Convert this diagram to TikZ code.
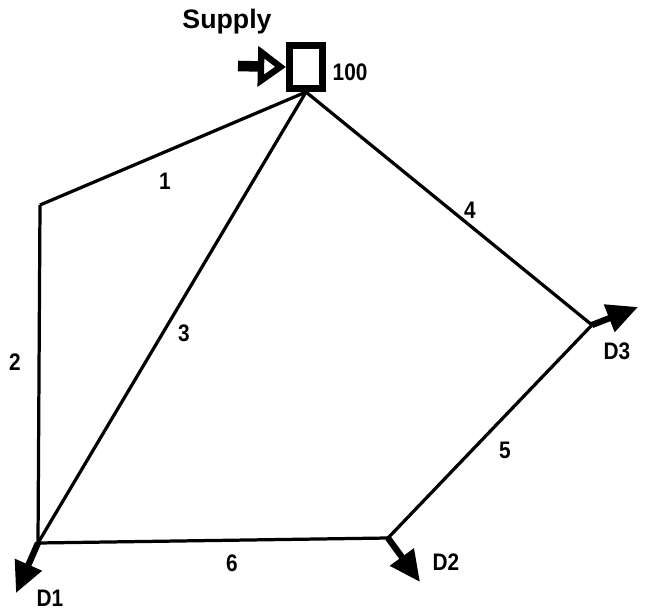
\documentclass[tikz,border=0pt]{standalone}
\usepackage{fontspec}
\setmainfont{Liberation Sans}
\newfontfamily\narrowfont{Liberation Sans}[FakeStretch=0.87]
\usepackage{xcolor}
\usetikzlibrary{positioning, arrows.meta}
\definecolor{pipegray}{HTML}{000000}

\begin{document}
\begin{tikzpicture}[
    x=0.025cm, y=-0.025cm,
    every node/.style={font=\narrowfont\bfseries\fontsize{17}{19}\selectfont},
    pipe/.style={line width=2.3pt, color=pipegray},
    demand/.style={line width=4.5pt, -{Triangle[length=22pt, width=20pt]}},
    lbl/.style={inner sep=1pt}
]
\useasboundingbox (0,0) rectangle (658,611);

% supply tank
\node[draw, line width=5pt, minimum width=23.5pt, minimum height=30.6pt, inner sep=0pt] (tank) at (306,67) {};
\node[lbl, font=\bfseries\fontsize{19}{21}\selectfont] (supply) at (227,22) {Supply};
\node[lbl, anchor=west] (head) at (331,72) {100};
\coordinate (src) at (tank.south);
\coordinate (inl) at (238,66);
\draw[line width=7.5pt, -{Triangle[open, length=20pt, width=28pt, line width=4.5pt]}] (inl) -- (tank.west);

% junctions
\coordinate (jA) at (40,205);
\coordinate (j1) at (38,543);
\coordinate (j2) at (388,538);
\coordinate (j3) at (592,325);

% pipes
\draw[pipe] (src) -- (jA);
\draw[pipe] (jA) -- (j1);
\draw[pipe] (src) -- (j1);
\draw[pipe] (src) -- (j3);
\draw[pipe] (j3) -- (j2);
\draw[pipe] (j1) -- (j2);
\node[lbl] (p1) at (165,181) {1};
\node[lbl] (p2) at (15,362) {2};
\node[lbl] (p3) at (184,333) {3};
\node[lbl] (p4) at (470,210) {4};
\node[lbl] (p5) at (505,450) {5};
\node[lbl] (p6) at (232,563) {6};

% demands
\coordinate (d1) at (16,593);
\coordinate (d2) at (420,582);
\coordinate (d3) at (638,307);
\draw[demand] (j1) -- (d1);
\draw[demand] (j2) -- (d2);
\draw[demand] (j3) -- (d3);
\node[lbl] (D1) at (50,598) {D1};
\node[lbl] (D2) at (446,562) {D2};
\node[lbl] (D3) at (617,351) {D3};
\end{tikzpicture}
\end{document}
